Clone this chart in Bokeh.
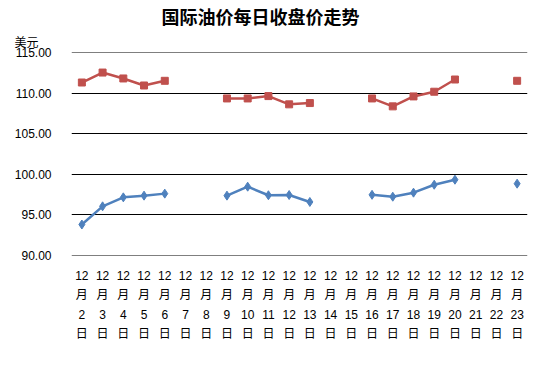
from bokeh.plotting import figure
from bokeh.models import (PrintfTickFormatter, Legend, LegendItem, Title,
                          Range1d, FactorRange, ColumnDataSource)
from bokeh.embed import file_html
from bokeh.resources import INLINE

nan = float("nan")
day_numbers = [str(d) for d in range(2, 24)]
month_text = "12"
month_char = "月"
day_char = "日"
days = ["\n".join([month_text, month_char, d, day_char]) for d in day_numbers]
wti = [93.78, 96.03, 97.14, 97.35, 97.60, nan, nan, 97.35, 98.46, 97.40, 97.43, 96.57,
       nan, nan, 97.45, 97.22, 97.72, 98.70, 99.32, nan, nan, 98.83]
brent = [111.34, 112.57, 111.84, 110.97, 111.55, nan, nan, 109.37, 109.37, 109.66, 108.64,
         108.80, nan, nan, 109.37, 108.39, 109.62, 110.20, 111.71, nan, nan, 111.55]
y_ticks = [90, 95, 100, 105, 110, 115]
title_text = "国际油价每日收盘价走势"
unit_text = "美元"
wti_name = "WTI 最近交货月"
brent_name = "Brent 最近交货月"

BLUE = "#4F81BD"
RED = "#C0504D"
CJK = "Noto Sans CJK SC"

src = ColumnDataSource(dict(day=days, wti=wti, brent=brent))

p = figure(frame_width=456, frame_height=203, x_range=FactorRange(factors=days),
           y_range=Range1d(89.95, 115.05), output_backend="svg", toolbar_location=None,
           title=None, min_border_left=0, min_border_right=8,
           min_border_top=0, min_border_bottom=0)
p.outline_line_color = None
p.background_fill_color = "white"
p.border_fill_color = "white"

# unit label (closest to the frame), then main title above it
unit_title = Title(text=unit_text, text_font=CJK, text_font_size="12px",
                   text_font_style="normal", text_color="black", align="left",
                   offset=-57, standoff=5)
p.add_layout(unit_title, "above")
main_title = Title(text=title_text, text_font=CJK, text_font_size="18px",
                   text_font_style="bold", text_color="black", align="left",
                   offset=90, standoff=0)
p.add_layout(main_title, "above")

# y axis
ya = p.yaxis[0]
ya.ticker = y_ticks
ya.formatter = PrintfTickFormatter(format="%.2f")
ya.axis_line_color = None
ya.major_tick_line_color = None
ya.minor_tick_line_color = None
ya.major_tick_out = 0
ya.major_tick_in = 0
ya.major_label_standoff = 20
ya.major_label_text_font = "Liberation Sans"
ya.major_label_text_font_size = "12px"
ya.major_label_text_color = "black"
ya.axis_label = " "
ya.axis_label_orientation = "horizontal"
ya.axis_label_standoff = 5
ya.axis_label_text_font_size = "12px"

xa = p.xaxis[0]
xa.axis_line_color = None
xa.major_tick_line_color = None
xa.minor_tick_line_color = None
xa.major_tick_out = 0
xa.major_tick_in = 0
xa.major_label_standoff = 13
xa.major_label_text_font = "Liberation Sans, Noto Sans CJK SC"
xa.major_label_text_font_size = "12px"
xa.major_label_text_color = "black"
xa.major_label_text_line_height = 1.4

# bottom spacer so the canvas extends to hold the legend row
bottom_space = Title(text=" ", text_font_size="1px", standoff=22)
p.add_layout(bottom_space, "below")

p.xgrid.grid_line_color = None
p.ygrid.ticker = y_ticks
p.ygrid.grid_line_color = "black"
p.ygrid.grid_line_width = 1

lw = p.line("day", "wti", source=src, line_color=BLUE, line_width=2.5)
mw = p.scatter("day", "wti", source=src, marker="diamond", size=9,
               fill_color=BLUE, line_color=BLUE)
lb = p.line("day", "brent", source=src, line_color=RED, line_width=2.5)
mb = p.scatter("day", "brent", source=src, marker="square", size=7,
               fill_color=RED, line_color=RED)

legend = Legend(items=[LegendItem(label=wti_name, renderers=[lw, mw]),
                       LegendItem(label=brent_name, renderers=[lb, mb])],
                orientation="horizontal", location=(62, -110))
legend.border_line_color = None
legend.background_fill_alpha = 0
legend.glyph_width = 26
legend.glyph_height = 14
legend.label_height = 14
legend.label_standoff = 3
legend.spacing = 22
legend.label_text_font = CJK
legend.label_text_font_size = "12px"
legend.margin = 0
legend.padding = 2
p.add_layout(legend)

open("out.html", "w").write(file_html(p, INLINE))
